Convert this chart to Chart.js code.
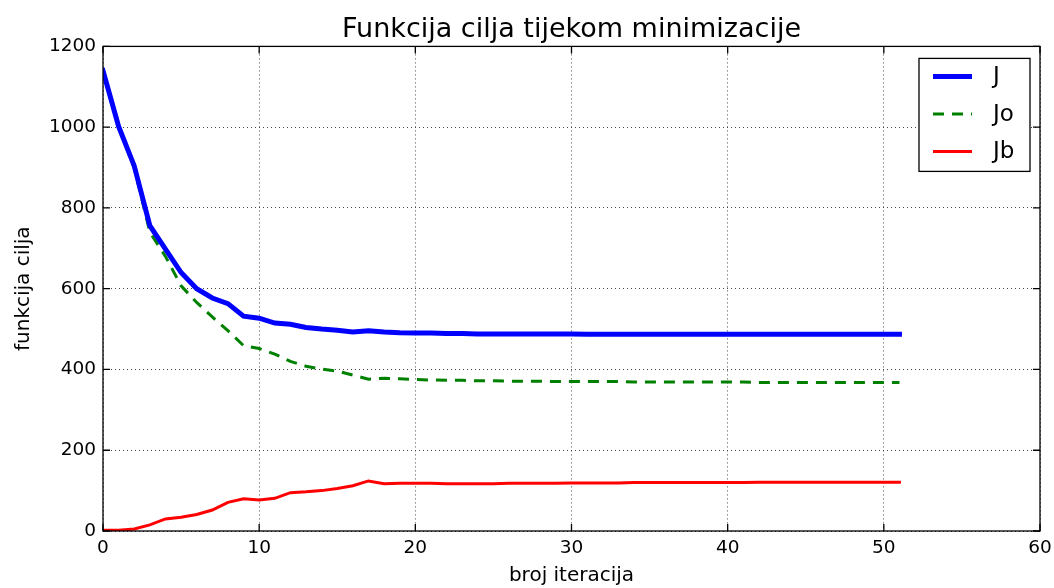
<!DOCTYPE html>
<html>
<head>
<meta charset="utf-8">
<script src="https://cdn.jsdelivr.net/npm/chart.js@4.4.0/dist/chart.umd.min.js"></script>
<style>
  html, body { margin: 0; padding: 0; background: #fff; }
  #wrap { width: 1054px; height: 588px; }
</style>
</head>
<body>
<div id="wrap"><canvas id="c" width="1054" height="588"></canvas></div>
<script>
const iterations = Array.from({length: 52}, (_, i) => i);
const seriesJ = [1140, 1002, 904, 756, 698, 640, 600, 577, 563, 532,
                 527, 515, 512, 504, 500, 497, 493, 496, 493, 491,
                 490, 490, 489, 489, 488, 488, 488, 488, 488, 488,
                 488, 487, 487, 487, 487, 487, 487, 487, 487, 487,
                 487, 487, 487, 487, 487, 487, 487, 487, 487, 487,
                 487, 487];
const seriesJo = [1136, 1000, 899, 740, 680, 607, 566, 530, 496, 459,
                  452, 438, 420, 408, 401, 396, 386, 376, 378, 377,
                  375, 374, 373, 373, 372, 372, 371, 371, 371, 370,
                  370, 370, 370, 370, 369, 369, 369, 369, 369, 369,
                  369, 369, 368, 368, 368, 368, 368, 368, 368, 368,
                  368, 368];
const seriesJb = [2, 2, 5, 15, 30, 34, 41, 52, 71, 80,
                  77, 81, 95, 97, 100, 105, 112, 124, 117, 118,
                  118, 118, 117, 117, 117, 117, 118, 118, 118, 118,
                  119, 119, 119, 119, 120, 120, 120, 120, 120, 120,
                  120, 120, 121, 121, 121, 121, 121, 121, 121, 121,
                  121, 121];
const seriesNames = ['J', 'Jo', 'Jb'];
const xTicks = [0, 10, 20, 30, 40, 50, 60];
const yTicks = [0, 200, 400, 600, 800, 1000, 1200];

const FONT = "'DejaVu Sans', sans-serif";
const toPts = (arr) => arr.map((v, i) => ({x: iterations[i], y: v}));

const frameAndTicks = {
  id: 'frameAndTicks',
  afterDatasetsDraw(chart) {
    const {ctx, chartArea: a, scales: {x, y}} = chart;
    ctx.save();
    ctx.strokeStyle = '#000';
    ctx.lineWidth = 1.3;
    ctx.setLineDash([]);
    ctx.strokeRect(a.left, a.top, a.right - a.left, a.bottom - a.top);
    const L = 7;
    ctx.beginPath();
    xTicks.forEach(t => {
      const px = x.getPixelForValue(t);
      ctx.moveTo(px, a.bottom); ctx.lineTo(px, a.bottom - L);
      ctx.moveTo(px, a.top); ctx.lineTo(px, a.top + L);
    });
    yTicks.forEach(t => {
      const py = y.getPixelForValue(t);
      ctx.moveTo(a.left, py); ctx.lineTo(a.left + L, py);
      ctx.moveTo(a.right, py); ctx.lineTo(a.right - L, py);
    });
    ctx.stroke();

    // legend inside chart area (upper right)
    const items = chart.data.datasets;
    const bx = a.right - 121, by = a.top + 12, bw = 111, bh = 113;
    ctx.fillStyle = '#fff';
    ctx.fillRect(bx, by, bw, bh);
    ctx.strokeStyle = '#000';
    ctx.lineWidth = 1.3;
    ctx.strokeRect(bx, by, bw, bh);
    ctx.font = '23px ' + FONT;
    ctx.textBaseline = 'middle';
    ctx.textAlign = 'left';
    items.forEach((ds, i) => {
      const cy = by + 18 + i * 37.5;
      ctx.beginPath();
      ctx.strokeStyle = ds.borderColor;
      ctx.lineWidth = ds.borderWidth;
      ctx.setLineDash(ds.borderDash || []);
      ctx.moveTo(bx + 14, cy); ctx.lineTo(bx + 53, cy);
      ctx.stroke();
      ctx.setLineDash([]);
      ctx.fillStyle = '#000';
      ctx.fillText(ds.label, bx + 74, cy + 1);
    });
    ctx.restore();
  }
};

new Chart(document.getElementById('c'), {
  type: 'line',
  data: {
    datasets: [
      {label: seriesNames[0], data: toPts(seriesJ), borderColor: '#0000ff', borderWidth: 5, borderCapStyle: 'square', pointRadius: 0, tension: 0, fill: false},
      {label: seriesNames[1], data: toPts(seriesJo), borderColor: '#008000', borderWidth: 3, borderDash: [11, 8], pointRadius: 0, tension: 0, fill: false},
      {label: seriesNames[2], data: toPts(seriesJb), borderColor: '#ff0000', borderWidth: 3, borderCapStyle: 'square', pointRadius: 0, tension: 0, fill: false}
    ]
  },
  options: {
    responsive: false,
    animation: false,
    events: [],
    layout: {padding: {left: 12, right: 14, top: 0, bottom: 0}},
    plugins: {
      legend: {display: false},
      tooltip: {enabled: false},
      title: {
        display: true,
        fullSize: false,
        text: 'Funkcija cilja tijekom minimizacije',
        color: '#000',
        font: {family: FONT, size: 27, weight: 'normal', lineHeight: 1.2},
        padding: {top: 14, bottom: 0}
      }
    },
    scales: {
      x: {
        type: 'linear', min: 0, max: 60,
        afterBuildTicks: s => { s.ticks = xTicks.map(v => ({value: v})); },
        afterFit: s => { s.height = 57; s.paddingLeft = 0; s.paddingRight = 0; },
        ticks: {color: '#000', font: {family: FONT, size: 18.5}, padding: 6, maxRotation: 0, callback: v => String(v)},
        grid: {color: '#444', lineWidth: 1, drawTicks: false},
        border: {display: false, dash: [1, 3]},
        title: {display: true, text: 'broj iteracija', color: '#000', font: {family: FONT, size: 20}, padding: {top: 0, bottom: 0}}
      },
      y: {
        type: 'linear', min: 0, max: 1200,
        afterBuildTicks: s => { s.ticks = yTicks.map(v => ({value: v})); },
        afterFit: s => { s.width = 91; },
        ticks: {color: '#000', font: {family: FONT, size: 18.5}, padding: 7, callback: v => String(v)},
        grid: {color: '#444', lineWidth: 1, drawTicks: false},
        border: {display: false, dash: [1, 3]},
        title: {display: true, text: 'funkcija cilja', color: '#000', font: {family: FONT, size: 20}, padding: {top: 0, bottom: 4}}
      }
    }
  },
  plugins: [frameAndTicks]
});
</script>
</body>
</html>
